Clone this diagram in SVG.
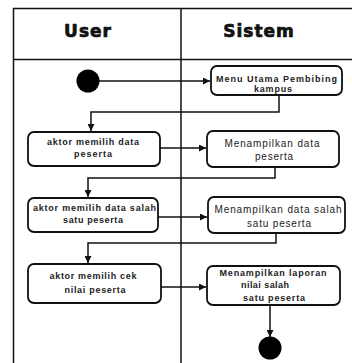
<svg xmlns="http://www.w3.org/2000/svg" width="352" height="363" viewBox="0 0 352 363">
<defs>
<style>
.lane{stroke:#111;stroke-width:1.5;fill:none}
.box{fill:#fff;stroke:#111;stroke-width:1.8}
.edge{stroke:#111;stroke-width:1.5;fill:none}
.hd{font-family:"DejaVu Sans",sans-serif;font-weight:bold;font-size:17px;fill:#111;stroke:#111;stroke-width:0.7;text-anchor:middle;letter-spacing:1px}
.t{font-family:"Liberation Sans",Arial,sans-serif;font-size:9px;font-weight:bold;fill:#222;text-anchor:middle}
.t2{font-family:"Liberation Sans",Arial,sans-serif;font-size:10px;fill:#222;text-anchor:middle}
</style>
<marker id="ah" viewBox="0 0 10 10" refX="10" refY="5" markerWidth="8" markerHeight="7" markerUnits="userSpaceOnUse" orient="auto">
<path d="M0,0 L10,5 L0,10 Z" fill="#111"/>
</marker>
</defs>
<rect width="352" height="363" fill="#fff"/>
<g id="swimlanes">
<path class="lane" d="M352,8.5 H13.5 V363 M13.5,59.5 H352 M181,8.5 V363"/>
<text class="hd" x="88" y="37">User</text>
<text class="hd" x="259" y="37">Sistem</text>
</g>
<g id="connectors">
<path class="edge" d="M99,81 H210" marker-end="url(#ah)"/>
<path class="edge" d="M279,95 V112 H91 V131" marker-end="url(#ah)"/>
<path class="edge" d="M160,148 H206" marker-end="url(#ah)"/>
<path class="edge" d="M275,167 V178 H88 V197" marker-end="url(#ah)"/>
<path class="edge" d="M158,217 H207" marker-end="url(#ah)"/>
<path class="edge" d="M276,233 V243 H88 V263" marker-end="url(#ah)"/>
<path class="edge" d="M161,287 H206" marker-end="url(#ah)"/>
<path class="edge" d="M270,305 V337" marker-end="url(#ah)"/>
</g>
<g id="start"><circle cx="88" cy="81" r="11.5" fill="#000"/></g>
<g id="menu">
<rect class="box" x="211" y="66" width="131" height="29" rx="6"/>
<text class="t" x="276.5" y="82" textLength="121" lengthAdjust="spacing">Menu Utama Pembibing</text>
<text class="t" x="273" y="92" textLength="38" lengthAdjust="spacing">kampus</text>
</g>
<g id="a1">
<rect class="box" x="28" y="132" width="132" height="34" rx="6"/>
<text class="t" x="93" y="145" textLength="92" lengthAdjust="spacing">aktor memilih data</text>
<text class="t" x="93" y="157" textLength="38" lengthAdjust="spacing">peserta</text>
</g>
<g id="s1">
<rect class="box" x="207" y="131" width="132" height="36" rx="6"/>
<text class="t2" x="272" y="147" textLength="95" lengthAdjust="spacing">Menampilkan data</text>
<text class="t2" x="274" y="160" textLength="38" lengthAdjust="spacing">peserta</text>
</g>
<g id="a2">
<rect class="box" x="28" y="198" width="130" height="34" rx="6"/>
<text class="t" x="94.5" y="211" textLength="123" lengthAdjust="spacing">aktor memilih data salah</text>
<text class="t" x="93" y="223" textLength="60" lengthAdjust="spacing">satu peserta</text>
</g>
<g id="s2">
<rect class="box" x="208" y="197" width="137" height="36" rx="6"/>
<text class="t2" x="278" y="213" textLength="127" lengthAdjust="spacing">Menampilkan data salah</text>
<text class="t2" x="279" y="227" textLength="64" lengthAdjust="spacing">satu peserta</text>
</g>
<g id="a3">
<rect class="box" x="28" y="264" width="133" height="39" rx="6"/>
<text class="t" x="93" y="279" textLength="87" lengthAdjust="spacing">aktor memilih cek</text>
<text class="t" x="95" y="293" textLength="61" lengthAdjust="spacing">nilai peserta</text>
</g>
<g id="s3">
<rect class="box" x="207" y="266" width="133" height="39" rx="6"/>
<text class="t" x="273" y="276" textLength="107" lengthAdjust="spacing">Menampilkan laporan</text>
<text class="t" x="265" y="288" textLength="48" lengthAdjust="spacing">nilai salah</text>
<text class="t" x="274" y="301" textLength="62" lengthAdjust="spacing">satu peserta</text>
</g>
<g id="end"><circle cx="270" cy="348" r="11.5" fill="#000"/></g>
</svg>
